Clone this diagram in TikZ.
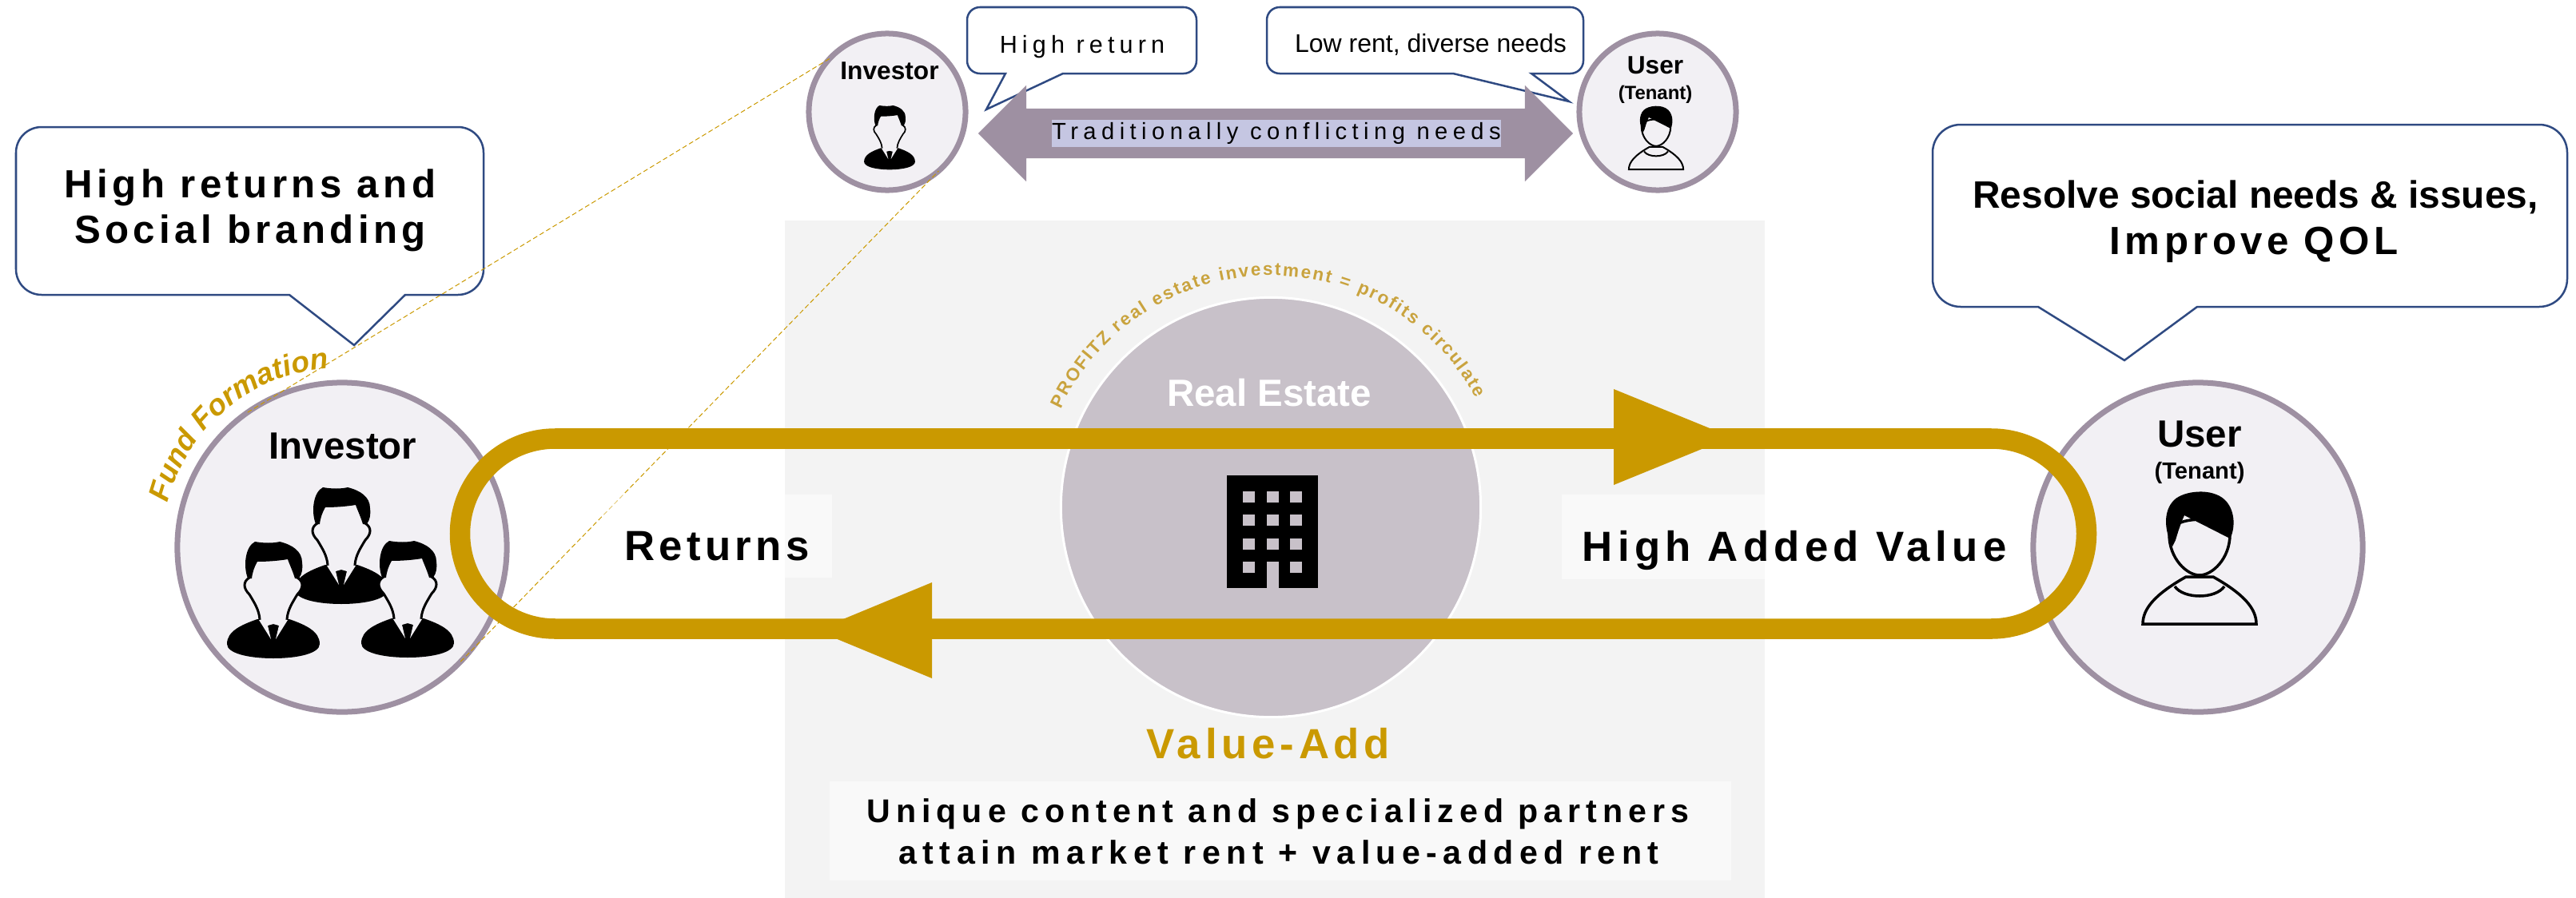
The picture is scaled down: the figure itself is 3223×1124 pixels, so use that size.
\documentclass[tikz,border=0pt]{standalone}
\usepackage{fontspec}
\setmainfont{Liberation Sans}
\usetikzlibrary{shapes.arrows,decorations.text}
\definecolor{frame}{HTML}{9E90A2}
\definecolor{pale}{HTML}{F2F0F4}
\definecolor{gold}{HTML}{CA9900}
\definecolor{softgold}{HTML}{C9A33E}
\definecolor{panel}{HTML}{F3F3F3}
\definecolor{estate}{HTML}{C8C1C9}
\definecolor{navy}{HTML}{2F4A82}
\definecolor{lilac}{HTML}{C5C6E2}
\newcommand{\sized}[1]{\fontsize{#1}{#1}\selectfont}
\newcommand{\spaced}[1]{\addfontfeature{LetterSpace=#1}}

\begin{document}
\begin{tikzpicture}[x=.01cm,y=-.01cm]
	\useasboundingbox (0,0) rectangle (3223,1124);
	\tikzset{person circle/.style={draw=frame,circle,fill=pale,line width=.07cm,minimum width=#1,inner sep=0,outer sep=0}}
	\tikzset{call out/.style={draw=navy,fill=white,line width=.025cm}}
	\tikzset{fund line/.style={gold,line width=.01cm,dash pattern=on .06cm off .035cm}}
	\tikzset{label/.style={inner sep=0,anchor=base,text=black,align=center}}
	\tikzset{band box/.style={fill=white,fill opacity=.5,text opacity=1,inner sep=0,text height=0,text depth=0}}
	\tikzset{suit man/.pic={
		\fill (-20,97) .. controls (-40,104) and (-58,112) .. (-58,128) .. controls (-58,140) and (-30,146) .. (0,146) .. controls (30,146) and (58,140) .. (58,128) .. controls (58,112) and (40,104) .. (20,97) -- cycle;
		\fill[pale] (-17,97) .. controls (-18,85) and (-24,76) .. (-30,66) .. controls (-38,58) and (-38,50) .. (-30,45) -- (-20,22) -- (18,20) -- (30,45) .. controls (38,50) and (38,58) .. (30,66) .. controls (24,76) and (18,85) .. (17,97) -- (0,103) -- cycle;
		\draw (-17,97) .. controls (-18,85) and (-24,76) .. (-30,66) .. controls (-38,58) and (-38,50) .. (-30,45);
		\draw (30,45) .. controls (38,50) and (38,58) .. (30,66) .. controls (24,76) and (18,85) .. (17,97);
		\fill[pale] (-18,98) -- (-3,122) -- (-7,105) -- (0,103) -- (7,105) -- (3,122) -- (18,98) -- cycle;
		\fill (-32,46) .. controls (-38,30) and (-35,6) .. (-23,0) .. controls (-12,2) and (0,2) .. (8,0) .. controls (24,4) and (36,12) .. (36,26) .. controls (37,34) and (36,40) .. (32,46) -- (27,46) .. controls (24,36) and (20,28) .. (18,22) .. controls (6,24) and (-8,25) .. (-20,25) .. controls (-24,32) and (-26,38) .. (-27,46) -- cycle;
	}}
	\tikzset{tenant/.pic={
		\draw[fill=pale] (-71,167) .. controls (-71,148) and (-56,130) .. (-17,108) -- (17,108) .. controls (56,130) and (71,148) .. (71,167) -- cycle;
		\draw (-31,120) .. controls (-20,136) and (20,136) .. (31,120);
		\draw[fill=pale] (-38,55) .. controls (-38,85) and (-16,106) .. (0,106) .. controls (16,106) and (38,85) .. (38,55) .. controls (38,30) and (-38,30) .. (-38,55) -- cycle;
		\fill (-34,70) .. controls (-44,50) and (-46,26) .. (-32,12) .. controls (-20,0) and (16,-4) .. (32,12) .. controls (46,26) and (44,50) .. (38,60) -- (-19,31) .. controls (-24,42) and (-28,55) .. (-30,62) -- cycle;
	}}

	% grey panel in the middle
	\node[fill=panel,inner sep=0,minimum width=12.25cm,minimum height=8.48cm] (P) at (1595,700) {};
	\node[circle,draw=white,fill=estate,line width=.03cm,minimum width=5.25cm,inner sep=0] (R) at (1590,635) {};

	\node [person circle=4.12cm] (A) at (428,685) {};
	\node [person circle=4.12cm] (B) at (2750,685) {};
	\node [person circle=1.96cm] (C) at (1110,140) {};
	\node [person circle=1.96cm] (D) at (2074,140) {};

	% speech bubbles
	\foreach \xa/\ya/\xb/\yb/\ta/\tx/\ty/\tb/\rr in {20/159/605/369/362/443/432/507/.32cm,2418/156/3212/384/2550/2658/451/2749/.35cm,1210/9/1497/92/1258/1234/137/1330/.16cm,1585/9/1981/92/1818/1963/127/1916/.16cm}
		\draw[call out] (\ta,\yb) [rounded corners=\rr] -- (\xa,\yb) -- (\xa,\ya) -- (\xb,\ya) -- (\xb,\yb) [sharp corners] -- (\tb,\yb) -- (\tx,\ty) -- cycle;

	\draw[fund line] (A.125) -- (C.137);
	\draw[fund line] (A.-44) -- (C.-49);

	% conflict arrow
	\node[double arrow,fill=frame,inner xsep=0,inner ysep=.305cm,minimum height=7.44cm,double arrow head extend=.29cm,double arrow tip angle=90] (N) at (1596,167) {};
	\node[fill=lilac,inner sep=0,minimum width=5.61cm,minimum height=.33cm,font=\sized{8.3}\spaced{22},text=black] (T) at (1597,167) {Traditionally conflicting needs};

	% text on the white boxes
	\node[band box,minimum width=2.88cm,minimum height=1.04cm] (E) at (897,671) {};
	\node[band box,minimum width=5.81cm,minimum height=1.05cm] (F) at (2245,672) {};
	\node[fill=white,fill opacity=.5,inner sep=0,minimum width=11.27cm,minimum height=1.23cm] (G) at (1602,1040) {};

	% loop with its two heads
	\draw[gold,line width=.255cm,rounded corners=1.19cm] (575.5,549) rectangle (2610.5,787);
	\fill[gold] (2019,487) -- (2166,547) -- (2019,607) -- cycle;
	\fill[gold] (1166,729) -- (1021,789) -- (1166,849) -- cycle;

	% building
	\fill (1535,595) rectangle (1649,736);
	\foreach \x in {1555,1585,1614}
		\foreach \y in {615,644,674,703}
			\fill[estate] (\x,\y) rectangle ++(15,14);
	\fill[estate] (1585,703) rectangle (1600,736);

	\pic[line width=.03cm] at (427,610) {suit man};
	\pic[line width=.03cm] at (342,678) {suit man};
	\pic[line width=.03cm] at (510,677) {suit man};
	\pic[scale=.55,line width=.017cm] at (1113,132) {suit man};
	\pic[line width=.035cm] at (2752,614) {tenant};
	\pic[scale=.48,line width=.02cm] at (2072,132) {tenant};

	\node[label,font=\bfseries\sized{14}\spaced{11}] (a) at (313,247) {High returns and};
	\node[label,font=\bfseries\sized{14}\spaced{11}] (b) at (313,304) {Social branding};
	\node[label,font=\bfseries\sized{13.6}] (c) at (2822,260) {Resolve social needs \& issues,};
	\node[label,font=\bfseries\sized{14}\spaced{11}] (d) at (2820,318) {Improve QOL};
	\node[label,font=\sized{8.7}\spaced{20}] (e) at (1354,67) {High return};
	\node[label,font=\sized{9.1}] (f) at (1790,65) {Low rent, diverse needs};
	\node[label,font=\bfseries\sized{9}] (g) at (1113,100) {Investor};
	\node[label,font=\bfseries\sized{9}] (h) at (2071,93) {User};
	\node[label,font=\bfseries\sized{6.8}] (i) at (2071,124) {(Tenant)};
	\node[label,font=\bfseries\sized{13.5}] (j) at (429,574) {Investor};
	\node[label,font=\bfseries\sized{13.5}] (k) at (2752,559) {User};
	\node[label,font=\bfseries\sized{8.3}] (l) at (2752,599) {(Tenant)};
	\node[label,font=\bfseries\sized{15}\spaced{10}] (m) at (897,701) {Returns};
	\node[label,font=\bfseries\sized{15}\spaced{12}] (n) at (2245,702) {High Added Value};
	\node[label,text=white,font=\bfseries\sized{13.5}] (o) at (1588,508) {Real Estate};
	\node[label,text=gold,font=\bfseries\sized{15}\spaced{11}] (q) at (1587,949) {Value-Add};
	\node[label,font=\bfseries\sized{11.7}\spaced{17}] (r) at (1599,1029) {Unique content and specialized partners};
	\node[label,font=\bfseries\sized{11.7}\spaced{18}] (s) at (1600,1081) {attain market rent + value-added rent};

	% curved texts
	\path[decorate,decoration={text along path,text color=gold,text align=center,text={|\bfseries\itshape\sized{10.5}|Fund Formation}}]
		({428+225*cos(165.5)},{685-225*sin(165.5)}) arc[start angle=165.5,end angle=94.5,radius=2.25cm];
	\path[decorate,decoration={text along path,text color=softgold,text align=fit to path,text={|\bfseries\sized{6.4}|PROFITZ real estate investment = profits circulate}}]
		({1590+290*cos(155)},{635-290*sin(155)}) arc[start angle=155,end angle=28,radius=2.9cm];
\end{tikzpicture}
\end{document}
